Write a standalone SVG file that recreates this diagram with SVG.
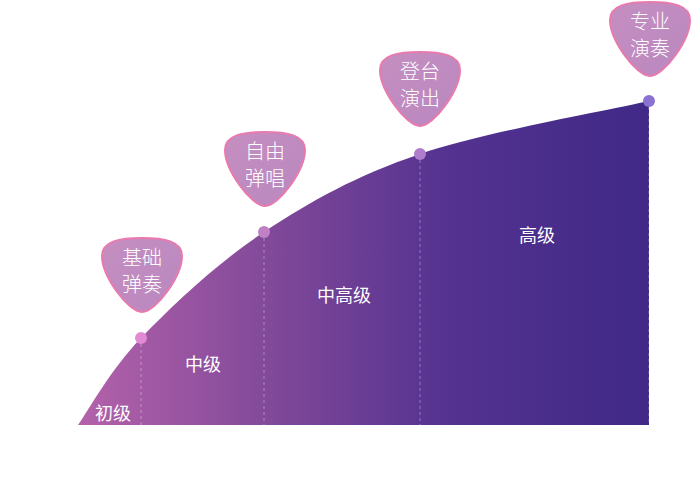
<svg xmlns="http://www.w3.org/2000/svg" width="695" height="478" viewBox="0 0 695 478">
<style>
.lbl{font-family:"Noto Sans CJK SC","Noto Sans",sans-serif;font-size:18px;fill:#ffffff;text-anchor:middle;dominant-baseline:central}
.pt{font-family:"Noto Sans CJK SC","Noto Sans",sans-serif;font-size:20px;font-weight:300;fill:#ffffff;text-anchor:middle;dominant-baseline:central}
.pick{fill:url(#pg);stroke:#e97aae;stroke-width:2}
.dash{stroke:#ffffff;stroke-opacity:0.35;stroke-width:1;stroke-dasharray:3 3}
</style>
<defs>
<linearGradient id="ag" x1="78" y1="0" x2="649" y2="0" gradientUnits="userSpaceOnUse">
<stop offset="0" stop-color="#b462aa"/>
<stop offset="0.35" stop-color="#7f4899"/>
<stop offset="0.65" stop-color="#543290"/>
<stop offset="1" stop-color="#402987"/>
</linearGradient>
<linearGradient id="pg" x1="0" y1="0" x2="1" y2="1">
<stop offset="0" stop-color="#c58ec0"/>
<stop offset="1" stop-color="#b988c0"/>
</linearGradient>
<path id="pk" d="M40 0 C62 0 80 3 80 18 C80 38 54 74 40 74 C26 74 0 38 0 18 C0 3 18 0 40 0 Z"/>
</defs>
<g id="area">
<path d="M78,425 C88.5,410.5 110,370.2 141,338 C172,305.8 217.5,262.7 264,232 C310.5,201.3 355.8,175.8 420,154 C484.2,132.2 610.8,109.8 649,101 L649,425 Z" fill="url(#ag)"/>
</g>
<g id="connectors">
<line class="dash" x1="141" y1="338" x2="141" y2="425"/>
<line class="dash" x1="264" y1="232" x2="264" y2="425"/>
<line class="dash" x1="420" y1="154" x2="420" y2="425"/>
<line class="dash" x1="649" y1="101" x2="649" y2="425"/>
</g>
<g id="levels">
<text class="lbl" x="113" y="412">初级</text>
<text class="lbl" x="203" y="363">中级</text>
<text class="lbl" x="344" y="294">中高级</text>
<text class="lbl" x="537" y="234">高级</text>
</g>
<g id="dots">
<circle cx="141" cy="338" r="6" fill="#e08ad4"/>
<circle cx="264" cy="232" r="6" fill="#c080c6"/>
<circle cx="420" cy="154" r="6" fill="#b07ccc"/>
<circle cx="649" cy="101" r="6" fill="#8a72d0"/>
</g>
<g id="pick1" transform="translate(102,238)">
<use href="#pk" class="pick"/>
<text class="pt" x="40" y="18">基础</text>
<text class="pt" x="40" y="45">弹奏</text>
</g>
<g id="pick2" transform="translate(225,132)">
<use href="#pk" class="pick"/>
<text class="pt" x="40" y="18">自由</text>
<text class="pt" x="40" y="45">弹唱</text>
</g>
<g id="pick3" transform="translate(380,52)">
<use href="#pk" class="pick"/>
<text class="pt" x="40" y="18">登台</text>
<text class="pt" x="40" y="45">演出</text>
</g>
<g id="pick4" transform="translate(610,2)">
<use href="#pk" class="pick"/>
<text class="pt" x="40" y="18">专业</text>
<text class="pt" x="40" y="45">演奏</text>
</g>
</svg>
